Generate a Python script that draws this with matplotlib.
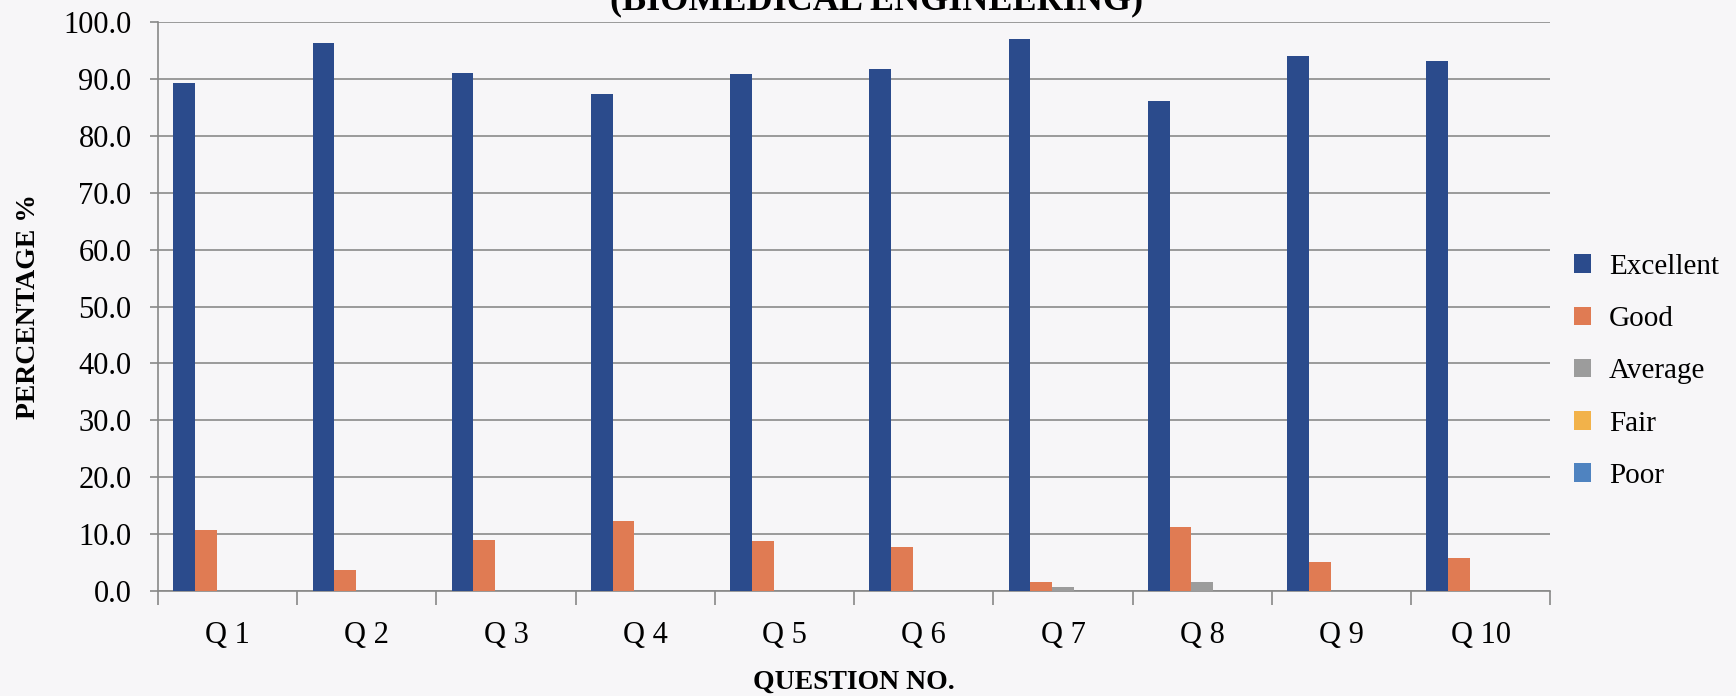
import numpy as np
import matplotlib.pyplot as plt

## Daten
questions = ["Q 1", "Q 2", "Q 3", "Q 4", "Q 5", "Q 6", "Q 7", "Q 8", "Q 9", "Q 10"]
excellent = [89.3, 96.4, 91.0, 87.3, 90.9, 91.7, 97.0, 86.2, 94.1, 93.2]
good = [10.7, 3.6, 9.0, 12.3, 8.8, 7.8, 1.6, 11.3, 5.0, 5.8]
average = [0, 0, 0, 0, 0, 0, 0.7, 1.6, 0, 0]
fair = [0, 0, 0, 0, 0, 0, 0, 0, 0, 0]
poor = [0, 0, 0, 0, 0, 0, 0, 0, 0, 0]

series = ["Excellent", "Good", "Average", "Fair", "Poor"]
colors = ["#2b4b8c", "#e07b53", "#9c9c9c", "#f2b24a", "#4f83c0"]

plt.rcParams['font.family'] = ['Liberation Serif', 'DejaVu Serif']

fig = plt.figure(figsize=(17.36, 6.96), dpi=100, facecolor="#f7f6f8")
ax = fig.add_axes([0.091, 0.151, 0.802, 0.817])
ax.set_facecolor("#f7f6f8")

x = np.arange(len(questions))
w = 0.156
for i, (name, vals) in enumerate(zip(series, [excellent, good, average, fair, poor])):
    ax.bar(x + (i - 2) * w, vals, w, color=colors[i], label=name, zorder=3)

ax.set_ylim(0, 100)
ax.set_xlim(-0.5, len(questions) - 0.5)
ax.set_yticks(np.arange(0, 101, 10))
ax.set_yticklabels([f"{v:.1f}" for v in np.arange(0, 101, 10)], fontsize=22)
ax.set_xticks(x)
ax.set_xticklabels(questions, fontsize=22)
ax.set_xticks(np.arange(-0.5, len(questions), 1), minor=True)
ax.tick_params(axis="x", which="major", length=0, pad=22)
ax.tick_params(axis="x", which="minor", length=10, color="#888888", width=1.2)
ax.tick_params(axis="y", length=6, color="#888888", width=1.2, pad=13)

ax.grid(axis="y", color="#8a8a8a", linewidth=1.2, zorder=0)
for s in ["top", "right"]:
    ax.spines[s].set_visible(False)
for s in ["left", "bottom"]:
    ax.spines[s].set_color("#888888")
    ax.spines[s].set_linewidth(1.2)

ax.set_ylabel("PERCENTAGE %", fontsize=20, fontweight="bold", labelpad=16)
ax.set_xlabel("QUESTION NO.", fontsize=20, fontweight="bold", labelpad=14)

fig.text(0.505, 0.975, "(BIOMEDICAL ENGINEERING)", fontsize=26, fontweight="bold",
         ha="center", va="bottom")

ax.legend(loc="center left", bbox_to_anchor=(0.998, 0.386), frameon=False, fontsize=21,
          handlelength=0.6, handleheight=0.6, handletextpad=0.6, labelspacing=0.9)

fig.savefig("out.png", dpi=100, facecolor=fig.get_facecolor())
